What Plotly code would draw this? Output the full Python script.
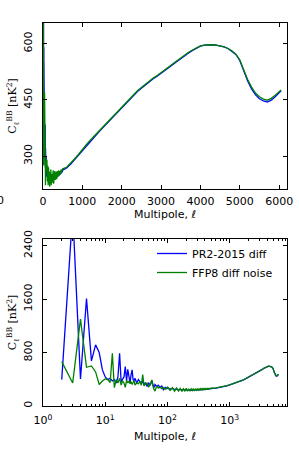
import plotly.graph_objects as go

# multipoles
ell = [2, 3, 4, 5, 6, 7, 8, 9, 10, 11, 12, 13, 14, 15, 16, 17, 18, 19, 20, 21, 22, 23, 24, 25, 26,
       27, 28, 29, 30, 32, 34, 36, 38, 40, 42, 44, 47, 50, 53, 56, 60, 63, 67, 71, 76, 81, 86, 92,
       98,
       100, 110, 120, 130, 140, 150, 160, 170, 180, 190, 200, 210, 220, 230, 240, 250, 260, 270,
       280, 290, 300, 310, 320, 330, 340, 350, 360, 370, 380, 390, 400, 410, 420, 430, 440, 450,
       460, 470, 480, 490, 500,
       600, 700, 800, 900, 1000, 1100, 1200, 1300, 1400, 1500, 1600, 1700, 1800, 1900,
       2000, 2100, 2200, 2300, 2400, 2500, 2600, 2700, 2800, 2900, 3000, 3100, 3200, 3300, 3400,
       3500, 3600, 3700, 3800, 3900, 4000, 4100, 4200, 4300, 4400, 4500, 4600, 4700, 4800, 4900,
       5000, 5100, 5200, 5300, 5400, 5500, 5600, 5700, 5800, 5900, 6000, 6050]

# PR2-2015 diff  [nK^2]
pr2_diff = [395, 2900, 405, 1610, 675, 915, 800, 540, 435, 395, 415, 375, 395, 345, 435, 790,
            365, 395, 435, 590, 375, 550, 415, 345, 465, 540, 395, 375, 415, 345, 395, 365, 335,
            375, 312, 352, 292, 342, 312, 384, 270, 322, 292, 312, 280, 300, 245, 280, 260,
            268, 252, 262, 246, 256, 240, 252, 238, 248, 236, 246, 234, 244, 236, 242, 234, 246,
            238, 244, 237, 246, 240, 248, 241, 248, 243, 250, 244, 252, 246, 253, 248, 255, 250,
            256, 252, 258, 254, 260, 257, 262,
            268, 278, 290, 302, 316, 328, 340, 351, 362, 373, 384, 395, 407, 418, 430, 441,
            452, 462, 472, 481, 490, 498, 506, 513, 520, 528, 536, 544, 552, 561, 568, 575, 582,
            588, 593, 596, 597, 597, 596, 594, 591, 587, 580, 571, 555, 527, 500, 479, 463, 453,
            447, 444, 449, 458, 468, 474]

# FFP8 diff noise  [nK^2]
ffp8_noise = [665, 345, 1300, 580, 600, 510, 322, 375, 405, 395, 352, 790, 275, 395, 345, 415,
              312, 375, 345, 280, 385, 345, 375, 332, 365, 322, 352, 385, 312, 342, 332, 365,
              312, 470, 300, 332, 342, 290, 322, 390, 258, 222, 300, 270, 280, 258, 275, 252,
              265,
              290, 232, 275, 222, 270, 225, 262, 218, 258, 226, 264, 222, 252, 228, 258, 232,
              262, 226, 252, 234, 260, 236, 256, 240, 258, 238, 260, 244, 258, 246, 262, 248,
              260, 250, 262, 254, 264, 256, 264, 258, 266,
              270, 280, 292, 304, 318, 330, 342, 353, 364, 375, 386, 397,
              409, 420, 432, 443, 454, 464, 474, 483, 492, 500, 508, 515, 522, 530, 538, 546,
              554, 563, 570, 577, 583, 589, 594, 596, 597, 597, 596, 594, 591, 587, 581, 572,
              557, 530, 504, 484, 468, 458, 452, 449, 454, 462, 471, 476]

series_names = ["PR2-2015 diff", "FFP8 diff noise"]
series_colors = ["#0000ff", "#008000"]

top_xticks = [0, 1000, 2000, 3000, 4000, 5000, 6000]
top_yticks = [300, 450, 600]
bot_xticks = [1, 10, 100, 1000]
bot_xtext = ["10<sup>0</sup>", "10<sup>1</sup>", "10<sup>2</sup>", "10<sup>3</sup>"]
bot_yticks = [0, 800, 1600, 2400]

W, H = 299, 452
FONT = "DejaVu Sans"
FS = 11
ylabel = "C<sub>ℓ</sub><sup>BB</sup> [nK<sup>2</sup>]"

fig = go.Figure()
for vals, name, col in zip([pr2_diff, ffp8_noise], series_names, series_colors):
    fig.add_trace(go.Scatter(x=ell, y=vals, mode="lines", line=dict(color=col, width=1.3),
                             showlegend=False, xaxis="x", yaxis="y", hoverinfo="skip"))
for vals, name, col in zip([pr2_diff, ffp8_noise], series_names, series_colors):
    fig.add_trace(go.Scatter(x=ell, y=vals, mode="lines", name=name,
                             line=dict(color=col, width=1.3),
                             xaxis="x2", yaxis="y2", hoverinfo="skip"))

ax_common = dict(showline=True, linecolor="black", linewidth=1, mirror="allticks",
                 ticks="inside", ticklen=4, tickcolor="black", showgrid=False, zeroline=False,
                 automargin=False,
                 tickfont=dict(family=FONT, size=FS, color="black"))

ytitle = dict(text=ylabel, font=dict(family="DejaVu Serif", size=FS), standoff=2)

fig.update_layout(
    width=W, height=H, margin=dict(l=0, r=0, t=0, b=0, autoexpand=False),
    paper_bgcolor="white", plot_bgcolor="white",
    font=dict(family=FONT, size=FS, color="black"),
    xaxis=dict(domain=[43 / W, 287 / W], range=[0, 6200], tickvals=top_xticks,
               anchor="y", ticklabelstandoff=2,
               title=dict(text="Multipole, ℓ", font=dict(family=FONT, size=FS), standoff=3),
               **ax_common),
    yaxis=dict(domain=[1 - 189 / H, 1 - 23 / H], range=[212, 655], tickvals=top_yticks,
               tickangle=-90, anchor="x", title=ytitle, ticklabelstandoff=6, **ax_common),
    xaxis2=dict(domain=[43 / W, 287 / W], type="log", range=[0, 3.92], tickvals=bot_xticks,
                ticktext=bot_xtext, anchor="y2",
                minor=dict(ticks="inside", ticklen=2, tickcolor="black", dtick="D1"),
                ticklabelstandoff=4,
                title=dict(text="Multipole, ℓ", font=dict(family=FONT, size=FS), standoff=6),
                **ax_common),
    yaxis2=dict(domain=[1 - 406 / H, 1 - 239 / H], range=[0, 2500], tickvals=bot_yticks,
                tickangle=-90, anchor="x2", title=ytitle, ticklabelstandoff=6, **ax_common),
    legend=dict(x=152 / W, y=1 - 239 / H, xanchor="left", yanchor="top",
                bgcolor="rgba(0,0,0,0)", borderwidth=0,
                font=dict(family=FONT, size=FS, color="black"), tracegroupgap=0),
    annotations=[dict(text="0", x=0, y=1 - 200 / H, xref="paper", yref="paper",
                      xanchor="center", yanchor="middle", showarrow=False,
                      font=dict(family=FONT, size=FS, color="black"))],
)

fig.write_html("out.html", config={"displayModeBar": False},
               post_script="document.body.style.margin='0';")
